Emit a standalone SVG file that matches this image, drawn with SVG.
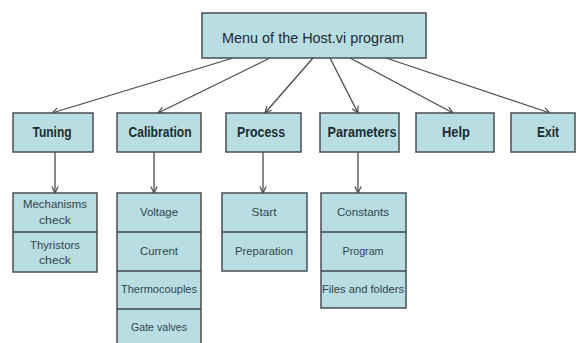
<svg xmlns="http://www.w3.org/2000/svg" width="579" height="343" viewBox="0 0 579 343">
<defs>
<marker id="arr" viewBox="0 0 10 10" refX="9" refY="5" markerWidth="8" markerHeight="8" orient="auto" markerUnits="userSpaceOnUse">
<path d="M1,1 L9,5 L1,9" fill="none" stroke="#4a4a4a" stroke-width="1.5"/>
</marker>
<style>
.box{fill:#b8dde3;stroke:#4a4f52;stroke-width:1.5}
.div{stroke:#3f4448;stroke-width:1.5}
.t1{font-family:"Liberation Sans",Arial,sans-serif;font-size:15px;fill:#1e2b30;text-anchor:middle}
.t2{font-family:"Liberation Sans",Arial,sans-serif;font-size:14px;font-weight:bold;fill:#1e2b30;text-anchor:middle}
.t3{font-family:"Liberation Sans",Arial,sans-serif;font-size:11.5px;fill:#33454c;text-anchor:middle}
.ln{stroke:#4a4a4a;stroke-width:1.3;fill:none}
</style>
</defs>
<rect width="579" height="343" fill="#ffffff"/>
<g id="connectors">
<line class="ln" x1="233" y1="58" x2="52" y2="113" marker-end="url(#arr)"/>
<line class="ln" x1="270" y1="58" x2="158" y2="113" marker-end="url(#arr)"/>
<line class="ln" x1="313" y1="58" x2="265" y2="113" marker-end="url(#arr)"/>
<line class="ln" x1="330" y1="58" x2="358" y2="113" marker-end="url(#arr)"/>
<line class="ln" x1="350" y1="58" x2="453" y2="113" marker-end="url(#arr)"/>
<line class="ln" x1="386" y1="58" x2="550" y2="113" marker-end="url(#arr)"/>
<line class="ln" x1="55" y1="152" x2="55" y2="193" marker-end="url(#arr)"/>
<line class="ln" x1="154" y1="152" x2="154" y2="193" marker-end="url(#arr)"/>
<line class="ln" x1="263" y1="152" x2="263" y2="193" marker-end="url(#arr)"/>
<line class="ln" x1="358" y1="152" x2="358" y2="193" marker-end="url(#arr)"/>
</g>
<g id="menu">
<rect class="box" x="202" y="13" width="224" height="45"/>
<text class="t1" x="313" y="43" textLength="182" lengthAdjust="spacingAndGlyphs">Menu of the Host.vi program</text>
</g>
<g id="tuning">
<rect class="box" x="13" y="113" width="80" height="39"/>
<text class="t2" x="52" y="137" textLength="39" lengthAdjust="spacingAndGlyphs">Tuning</text>
</g>
<g id="calibration">
<rect class="box" x="117" y="113" width="84" height="39"/>
<text class="t2" x="160" y="137" textLength="63" lengthAdjust="spacingAndGlyphs">Calibration</text>
</g>
<g id="process">
<rect class="box" x="226" y="113" width="75" height="39"/>
<text class="t2" x="261" y="137" textLength="48" lengthAdjust="spacingAndGlyphs">Process</text>
</g>
<g id="parameters">
<rect class="box" x="320" y="113" width="79" height="39"/>
<text class="t2" x="362" y="137" textLength="69" lengthAdjust="spacingAndGlyphs">Parameters</text>
</g>
<g id="help">
<rect class="box" x="416" y="113" width="78" height="39"/>
<text class="t2" x="456" y="137" textLength="28" lengthAdjust="spacingAndGlyphs">Help</text>
</g>
<g id="exit">
<rect class="box" x="511" y="113" width="64" height="39"/>
<text class="t2" x="548" y="137" textLength="22" lengthAdjust="spacingAndGlyphs">Exit</text>
</g>
<g id="tuning-items">
<rect class="box" x="13" y="193" width="84" height="79"/>
<line class="div" x1="13" y1="232" x2="97" y2="232"/>
<text class="t3" x="55" y="208" textLength="64" lengthAdjust="spacingAndGlyphs">Mechanisms</text>
<text class="t3" x="55" y="224" textLength="32" lengthAdjust="spacingAndGlyphs">check</text>
<text class="t3" x="55" y="249" textLength="50" lengthAdjust="spacingAndGlyphs">Thyristors</text>
<text class="t3" x="55" y="264" textLength="32" lengthAdjust="spacingAndGlyphs">check</text>
</g>
<g id="calibration-items">
<rect class="box" x="117" y="193" width="84" height="151"/>
<line class="div" x1="117" y1="232" x2="201" y2="232"/>
<line class="div" x1="117" y1="271" x2="201" y2="271"/>
<line class="div" x1="117" y1="309" x2="201" y2="309"/>
<text class="t3" x="159" y="216" textLength="38" lengthAdjust="spacingAndGlyphs">Voltage</text>
<text class="t3" x="159" y="255" textLength="38" lengthAdjust="spacingAndGlyphs">Current</text>
<text class="t3" x="159" y="293" textLength="76" lengthAdjust="spacingAndGlyphs">Thermocouples</text>
<text class="t3" x="159" y="331" textLength="56" lengthAdjust="spacingAndGlyphs">Gate valves</text>
</g>
<g id="process-items">
<rect class="box" x="222" y="193" width="85" height="78"/>
<line class="div" x1="222" y1="232" x2="307" y2="232"/>
<text class="t3" x="264" y="216" textLength="25" lengthAdjust="spacingAndGlyphs">Start</text>
<text class="t3" x="264" y="255" textLength="58" lengthAdjust="spacingAndGlyphs">Preparation</text>
</g>
<g id="parameters-items">
<rect class="box" x="321" y="193" width="85" height="115"/>
<line class="div" x1="321" y1="232" x2="406" y2="232"/>
<line class="div" x1="321" y1="271" x2="406" y2="271"/>
<text class="t3" x="363" y="216" textLength="52" lengthAdjust="spacingAndGlyphs">Constants</text>
<text class="t3" x="363" y="255" textLength="41" lengthAdjust="spacingAndGlyphs">Program</text>
<text class="t3" x="363" y="293" textLength="82" lengthAdjust="spacingAndGlyphs">Files and folders</text>
</g>
</svg>
